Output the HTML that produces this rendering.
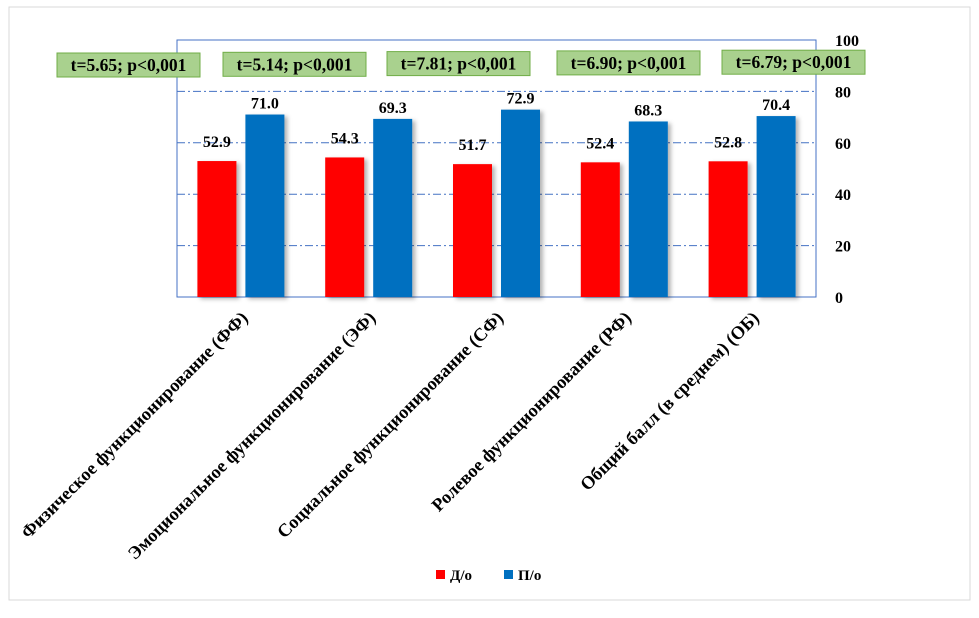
<!DOCTYPE html>
<html><head><meta charset="utf-8"><style>
body{margin:0;background:#fff;}
svg text{font-family:"Liberation Serif",serif;font-weight:bold;fill:#000;}
</style></head><body>
<svg width="979" height="613" xmlns="http://www.w3.org/2000/svg">
<defs><filter id="sh" x="-20%" y="-20%" width="150%" height="150%"><feDropShadow dx="3" dy="2" stdDeviation="2" flood-color="#000" flood-opacity="0.3"/></filter></defs>
<rect x="9" y="7" width="961" height="593" fill="#fff" stroke="#d9d9d9"/>
<g id="grid"></g><g id="bars"></g><g id="labels"></g>
<g>
<rect x="436" y="570" width="9" height="9" fill="#ff0000"/>
<text x="450" y="580" font-size="15">Д/о</text>
<rect x="504" y="570" width="9" height="9" fill="#0070c0"/>
<text x="518" y="580" font-size="15">П/о</text>
</g>
</svg>
<script>
const categories=["Физическое функционирование  (ФФ)","Эмоциональное  функционирование  (ЭФ)","Социальное  функционирование  (СФ)","Ролевое функционирование  (РФ)","Общий балл (в среднем) (ОБ)"];
const before=[52.9,54.3,51.7,52.4,52.8];
const after=[71.0,69.3,72.9,68.3,70.4];
const stats=["t=5.65; p<0,001","t=5.14; p<0,001","t=7.81; p<0,001","t=6.90; p<0,001","t=6.79; p<0,001"];
const ticks=[0,20,40,60,80,100];
const NS="http://www.w3.org/2000/svg";
const L=177,R=816,T=40,B=297;
const boxX=[57,223,387,557,722];
const y=v=>B-(v/100)*(B-T);
const bw=(R-L)/categories.length;
const cx=i=>L+bw*(i+0.5);
function mk(t,a,p){const e=document.createElementNS(NS,t);for(const k in a)e.setAttribute(k,a[k]);(p||document.getElementById('bars')).appendChild(e);return e;}
const grid=document.getElementById('grid');
ticks.forEach(t=>{
 if(t>0&&t<100){const g=mk('line',{x1:L,x2:R,y1:y(t),y2:y(t),stroke:'#4472c4','stroke-dasharray':'8,3,2,3'},grid);
 
 }
 const tx=mk('text',{x:835,y:y(t)+6,'font-size':16},grid);tx.textContent=t;
 
 
});
const fr=mk('rect',{x:L,y:T,width:R-L,height:B-T,fill:'none',stroke:'#4472c4'},grid);


const lab=document.getElementById('labels');
categories.forEach((c,i)=>{
 const w=39,g=9;
 const x1=cx(i)-g/2-w,x2=cx(i)+g/2;
 const r1=mk('rect',{x:x1,y:y(before[i]),width:w,height:B-y(before[i]),fill:'#ff0000',filter:'url(#sh)'});
 
 
 const r2=mk('rect',{x:x2,y:y(after[i]),width:w,height:B-y(after[i]),fill:'#0070c0',filter:'url(#sh)'});
 
 
 const v1=mk('text',{x:x1+w/2,y:y(before[i])-14,'text-anchor':'middle','font-size':16},lab);v1.textContent=before[i].toFixed(1);
 
 
 const v2=mk('text',{x:x2+w/2,y:y(after[i])-6,'text-anchor':'middle','font-size':16},lab);v2.textContent=after[i].toFixed(1);
 
 
 const by=53-i*0.7;
 const sb=mk('rect',{x:boxX[i],y:by,width:143,height:24,fill:'#a9d18e',stroke:'#70ad47'},lab);
 
 
 const st=mk('text',{x:boxX[i]+71.5,y:by+18,'text-anchor':'middle','font-size':17.5},lab);st.textContent=stats[i];
 
 
 const xl=mk('text',{x:0,y:0,'text-anchor':'end','font-size':18.3,transform:`translate(${cx(i)+8},${B+22}) rotate(-45)`},lab);xl.textContent=c;
 
 
});
</script>
</body></html>
